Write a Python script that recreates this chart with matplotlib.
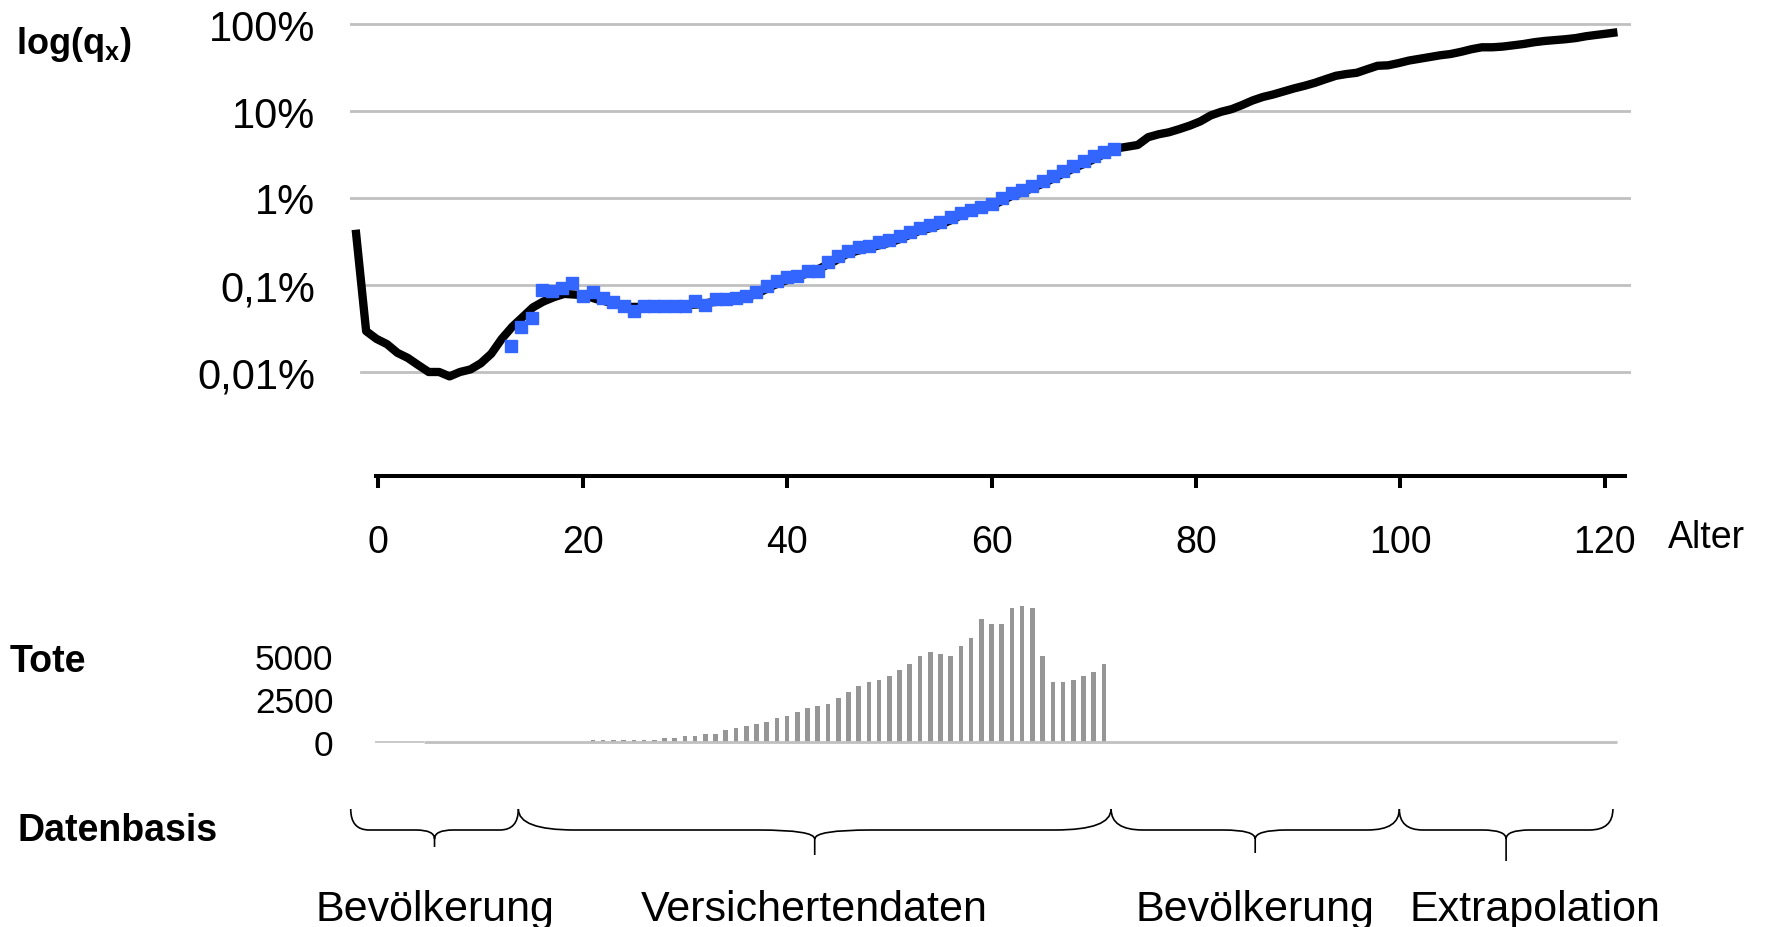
import matplotlib as mpl
import matplotlib.pyplot as plt
from matplotlib.path import Path
from matplotlib.patches import PathPatch
import numpy as np

mpl.rcParams['font.family'] = ['Liberation Sans', 'DejaVu Sans']
mpl.rcParams['mathtext.fontset'] = 'custom'
mpl.rcParams['mathtext.rm'] = 'Liberation Sans'
mpl.rcParams['mathtext.bf'] = 'Liberation Sans:bold'

# population table q_x in % (ages 0..121)
ages_pop = list(range(0, 122))
qx_pop = [0.432, 0.0295, 0.024, 0.0209, 0.0166, 0.0145, 0.0120, 0.0100, 0.0100, 0.0089,
          0.0100, 0.0107, 0.0126, 0.0162, 0.024, 0.033, 0.0427, 0.0553, 0.0646, 0.0724,
          0.079, 0.0776, 0.0759, 0.0692, 0.0646, 0.0603, 0.056, 0.056, 0.055, 0.055,
          0.056, 0.0575, 0.059, 0.060, 0.063, 0.0646, 0.0676, 0.0708, 0.0759, 0.0851,
          0.098, 0.110, 0.120, 0.132, 0.145, 0.166, 0.19, 0.224, 0.245, 0.263,
          0.282, 0.302, 0.331, 0.372, 0.417, 0.447, 0.49, 0.55, 0.63, 0.69,
          0.76, 0.81, 0.93, 1.07, 1.17, 1.32, 1.48, 1.70, 1.95, 2.24,
          2.51, 2.88, 3.31, 3.72, 3.89, 4.07, 5.0, 5.4, 5.7, 6.2,
          6.8, 7.6, 8.9, 9.8, 10.5, 11.7, 13.2, 14.5, 15.5, 16.8,
          18.2, 19.5, 21.1, 23.2, 25.4, 26.6, 27.5, 30.2, 33.1, 33.5,
          35.5, 38.0, 39.8, 41.7, 43.7, 45.2, 47.9, 51.3, 54.0, 54.0,
          55.0, 56.9, 58.9, 61.7, 63.8, 65.3, 66.8, 68.9, 72.4, 75.0,
          77.6, 80.4]

# insured data q_x in % (ages 13..72)
ages_ins = list(range(13, 73))
qx_ins = [0.0200, 0.0327, 0.0418, 0.0877, 0.0847, 0.0917, 0.1047, 0.0753, 0.0824, 0.0709,
          0.0633, 0.0578, 0.0507, 0.0578, 0.0578, 0.0578, 0.0578, 0.0578, 0.0661, 0.0594,
          0.0690, 0.0690, 0.0709, 0.0753, 0.0824, 0.0982, 0.1104, 0.1227, 0.128, 0.146,
          0.146, 0.1824, 0.217, 0.249, 0.271, 0.284, 0.308, 0.331, 0.361, 0.412,
          0.452, 0.486, 0.526, 0.605, 0.673, 0.728, 0.792, 0.853, 0.987, 1.14,
          1.24, 1.37, 1.57, 1.79, 2.06, 2.36, 2.66, 3.04, 3.42, 3.66]

# deaths in insured data (ages 21..71)
ages_dead = list(range(21, 72))
deaths = [134, 134, 134, 134, 134, 134, 134, 250, 250, 365,
          365, 480, 480, 710, 826, 941, 1056, 1171, 1402, 1517,
          1747, 1978, 2093, 2208, 2554, 2899, 3245, 3475, 3590, 3821,
          4166, 4512, 4973, 5203, 5088, 4973, 5549, 6010, 7104, 6816,
          6816, 7738, 7853, 7738, 4973, 3475, 3475, 3590, 3821, 4051,
          4512]

ytick_vals = [100, 10, 1, 0.1, 0.01]
ytick_labels = ['100%', '10%', '1%', '0,1%', '0,01%']
xtick_vals = [0, 20, 40, 60, 80, 100, 120]
bar_ticks = [0, 2500, 5000]

# data basis sections (age from, age to, label)
sections = [(-2.7, 13.7, 'Bevölkerung'), (13.7, 71.7, 'Versichertendaten'),
            (71.7, 99.9, 'Bevölkerung'), (99.9, 120.8, 'Extrapolation')]
label_shift = [0, 0, 0, 2.8]

W, H = 1771, 928
fig = plt.figure(figsize=(W / 100, H / 100), dpi=100)

def box(x0, y0, x1, y1):
    return [x0 / W, 1 - y1 / H, (x1 - x0) / W, (y1 - y0) / H]

xl = (-2.77, 122.57)

# --- top: log q_x
ax = fig.add_axes(box(350, 15, 1631, 477.3))
ax2 = ax.twiny()
ax2.set_zorder(ax.get_zorder() - 1)
ax.patch.set_visible(False)
ax2.patch.set_visible(False)

ax.set_yscale('log')
ax.set_ylim(10 ** (-5.199 + 2), 10 ** (0.115 + 2))
ax.set_xlim(*xl)
ax2.set_xlim(-0.547, 122.3)

for v in ytick_vals:
    ax2.axhline(v, xmin=0.0086 if v < 1 else 0, xmax=1, color='#c0c0c0', lw=2.0, zorder=1)

ax2.plot(ages_pop, qx_pop, color='black', lw=6.0, solid_capstyle='butt', zorder=2)
ax.plot(ages_ins, qx_ins, ls='none', marker='s', ms=9.3, color='#3366ff', mec='#3366ff', zorder=3)

for s in ['top', 'right', 'left']:
    ax.spines[s].set_visible(False)
for s in ax2.spines.values():
    s.set_visible(False)
ax2.set_xticks([])
ax2.tick_params(axis='both', which='both', length=0, labelbottom=False, labeltop=False)
ax.spines['bottom'].set_linewidth(2.9)
ax.spines['bottom'].set_bounds(-0.225, 122.0)
ax.set_xticks(xtick_vals)
ax.tick_params(axis='x', direction='out', length=8.4, width=2.9, labelsize=27, pad=26)
ax.set_yticks(ytick_vals)
ax.set_yticklabels(ytick_labels)
ax.yaxis.set_minor_locator(mpl.ticker.NullLocator())
ax.tick_params(axis='y', length=0, labelsize=30, pad=25)

# --- middle: deaths
axb = fig.add_axes(box(350, 600, 1631, 760))
axb.set_xlim(*xl)
axb.set_ylim(-963, 8264)
axb.bar(ages_dead, deaths, width=0.45, color='#969696', zorder=2)
axb.hlines(0, -0.32, 4.5, color='#c0c0c0', lw=1.2, zorder=3)
axb.hlines(0, 4.5, 121.2, color='#c0c0c0', lw=2.0, zorder=3)
for s in axb.spines.values():
    s.set_visible(False)
axb.patch.set_visible(False)
axb.set_xticks([])
axb.set_yticks(bar_ticks)
axb.set_yticklabels([str(t) for t in bar_ticks])
axb.tick_params(axis='y', length=0, labelsize=25.5, pad=12)

# --- bottom: braces
axc = fig.add_axes(box(350, 800, 1631, 872))
axc.set_xlim(*xl)
axc.set_ylim(872, 800)
axc.axis('off')
tips = [848, 856, 854, 862]
for (a0, a1, lab), tip, sh in zip(sections, tips, label_shift):
    am = (a0 + a1) / 2
    r = min(0.11 * (a1 - a0), 5.5)
    yt, ym = 810, 831
    verts = [(a0, yt), (a0, ym), (a0 + r, ym), (am - r, ym), (am, ym), (am, ym + 9), (am, tip),
             (am, ym + 9), (am, ym), (am + r, ym), (a1 - r, ym), (a1, ym), (a1, yt)]
    codes = [Path.MOVETO, Path.CURVE3, Path.CURVE3, Path.LINETO, Path.CURVE3, Path.CURVE3, Path.LINETO,
             Path.MOVETO, Path.CURVE3, Path.CURVE3, Path.LINETO, Path.CURVE3, Path.CURVE3]
    axc.add_patch(PathPatch(Path(verts, codes), fc='none', ec='black', lw=1.2, clip_on=False))
    axc.text(am + sh, 910, lab, ha='center', va='center', size=31, clip_on=False)

fig.text(16 / W, 1 - 45 / H, r'$\mathbf{log(q_x)}$', size=26, va='center', ha='left')
fig.text(1668 / W, 1 - 538 / H, 'Alter', size=27, va='center', ha='left')
fig.text(10 / W, 1 - 661.7 / H, 'Tote', size=27, weight='bold', va='center', ha='left')
fig.text(17 / W, 1 - 831 / H, 'Datenbasis', size=27, weight='bold', va='center', ha='left')

fig.savefig('out.png', dpi=100)
